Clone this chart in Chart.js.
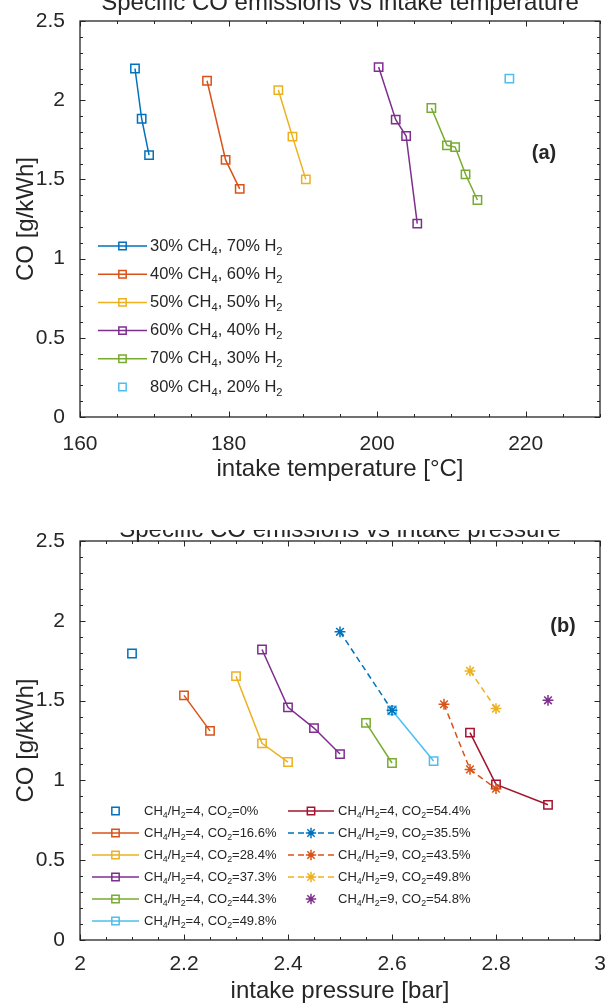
<!DOCTYPE html>
<html><head><meta charset="utf-8">
<script src="https://cdn.jsdelivr.net/npm/chart.js@4"></script>
<style>
html,body{margin:0;padding:0;background:#fff;width:610px;height:1008px;overflow:hidden}
canvas{position:absolute;left:0}
#ca{top:0}
#cb{top:500px}
</style></head><body>
<canvas id="ca" width="610" height="500"></canvas>
<canvas id="cb" width="610" height="508"></canvas>
<script>
// ---------- DATA: panel (a) CO vs intake temperature ----------
const labelsA = ['30% CH_4, 70% H_2','40% CH_4, 60% H_2','50% CH_4, 50% H_2','60% CH_4, 40% H_2','70% CH_4, 30% H_2','80% CH_4, 20% H_2'];
const t30 = [167.4, 168.3, 169.3];          const co30 = [2.20, 1.883, 1.653];
const t40 = [177.1, 179.6, 181.5];          const co40 = [2.123, 1.623, 1.44];
const t50 = [186.7, 188.6, 190.4];          const co50 = [2.064, 1.77, 1.50];
const t60 = [200.2, 202.5, 203.9, 205.4];   const co60 = [2.209, 1.877, 1.774, 1.221];
const t70 = [207.3, 209.4, 210.5, 211.9, 213.5]; const co70 = [1.951, 1.715, 1.704, 1.532, 1.37];
const t80 = [217.8];                        const co80 = [2.136];
const xTicksA = [160, 180, 200, 220];
const yTicks = [0, 0.5, 1, 1.5, 2, 2.5];

// ---------- DATA: panel (b) CO vs intake pressure ----------
const labelsB = ['CH_4/H_2=4, CO_2=0%','CH_4/H_2=4, CO_2=16.6%','CH_4/H_2=4, CO_2=28.4%','CH_4/H_2=4, CO_2=37.3%','CH_4/H_2=4, CO_2=44.3%','CH_4/H_2=4, CO_2=49.8%','CH_4/H_2=4, CO_2=54.4%','CH_4/H_2=9, CO_2=35.5%','CH_4/H_2=9, CO_2=43.5%','CH_4/H_2=9, CO_2=49.8%','CH_4/H_2=9, CO_2=54.8%'];
const p0  = [2.10];              const cp0  = [1.795];
const p16 = [2.20, 2.25];        const cp16 = [1.533, 1.31];
const p28 = [2.30, 2.35, 2.40];  const cp28 = [1.653, 1.232, 1.115];
const p37 = [2.35, 2.40, 2.45, 2.50]; const cp37 = [1.82, 1.458, 1.328, 1.165];
const p44 = [2.55, 2.60];        const cp44 = [1.36, 1.109];
const p49 = [2.60, 2.68];        const cp49 = [1.439, 1.121];
const p54 = [2.75, 2.80, 2.90];  const cp54 = [1.299, 0.975, 0.847];
const q35 = [2.50, 2.60];        const cq35 = [1.931, 1.439];
const q43 = [2.70, 2.75, 2.80];  const cq43 = [1.477, 1.069, 0.948];
const q49 = [2.75, 2.80];        const cq49 = [1.686, 1.45];
const q54 = [2.90];              const cq54 = [1.502];
const xTicksB = [2, 2.2, 2.4, 2.6, 2.8, 3];

// ---------- STYLE ----------
const C = ['#0072BD','#D95319','#EDB120','#7E2F8E','#77AC30','#4DBEEE','#A2142F'];
const FONT = '"Liberation Sans", Arial, Helvetica, sans-serif';
const AX = '#262626';

function pts(xs, ys){ return xs.map((x,i)=>({x:x, y:ys[i]})); }

function ds(label, xs, ys, color, style, line, dash){
  return {label, data: pts(xs, ys), borderColor: color, backgroundColor: color,
    showLine: line, borderWidth: 1.5, borderDash: dash || [],
    pointStyle: style, pointRadius: style==='rect' ? 5.9 : 5.4, pointBorderWidth: 1.5,
    pointBackgroundColor: 'rgba(0,0,0,0)', pointBorderColor: color,
    pointHoverRadius: 5.9, tension: 0};
}

function drawRich(ctx, label, x, y, size){
  const parts = []; let buf = '';
  for (let i=0;i<label.length;i++){
    if (label[i]==='_'){ if(buf) parts.push({t:buf,s:false}); buf=''; parts.push({t:label[i+1],s:true}); i++; }
    else buf += label[i];
  }
  if (buf) parts.push({t:buf,s:false});
  let cx = x;
  ctx.textAlign='left'; ctx.textBaseline='middle'; ctx.fillStyle = AX;
  for (const p of parts){
    const fs = p.s ? size*0.68 : size;
    ctx.font = fs+'px '+FONT;
    ctx.fillText(p.t, cx, p.s ? y + size*0.33 : y);
    cx += ctx.measureText(p.t).width;
  }
}

function deco(cfg){
  return { id: 'deco', afterDraw(chart){
    const ctx = chart.ctx, a = chart.chartArea, xs = chart.scales.x, ys = chart.scales.y;
    ctx.save();
    ctx.strokeStyle = AX; ctx.lineWidth = 1; ctx.setLineDash([]);
    const tick = (len, val, horiz) => {
      ctx.beginPath();
      if (horiz){ const px = Math.round(xs.getPixelForValue(val))+0.5;
        ctx.moveTo(px, a.bottom); ctx.lineTo(px, a.bottom-len);
        ctx.moveTo(px, a.top); ctx.lineTo(px, a.top+len); }
      else { const py = Math.round(ys.getPixelForValue(val))+0.5;
        ctx.moveTo(a.left, py); ctx.lineTo(a.left+len, py);
        ctx.moveTo(a.right, py); ctx.lineTo(a.right-len, py); }
      ctx.stroke();
    };
    for (let v = xs.min; v <= xs.max + 1e-9; v += cfg.xMinor) tick(3, v, true);
    for (let v = ys.min; v <= ys.max + 1e-9; v += 0.1) tick(3, v, false);
    cfg.xTicks.forEach(v => tick(5.5, v, true));
    yTicks.forEach(v => tick(5.5, v, false));
    ctx.lineWidth = 1.3;
    ctx.strokeRect(a.left, a.top, a.right-a.left, a.bottom-a.top);
    ctx.fillStyle = AX; ctx.font = '24px '+FONT; ctx.textAlign='center'; ctx.textBaseline='alphabetic';
    ctx.fillText(cfg.xTitle, (a.left+a.right)/2, cfg.xTitleY);
    ctx.save(); ctx.translate(33, (a.top+a.bottom)/2); ctx.rotate(-Math.PI/2);
    ctx.fillText('CO [g/kWh]', 0, 0); ctx.restore();
    ctx.save(); ctx.beginPath(); ctx.rect(0, cfg.clipY, chart.width, chart.height); ctx.clip();
    ctx.font = '24px '+FONT; ctx.textAlign='center'; ctx.textBaseline='alphabetic';
    ctx.fillText(cfg.title, (a.left+a.right)/2, cfg.titleY);
    ctx.restore();
    ctx.font = 'bold 20px '+FONT; ctx.textAlign='center'; ctx.textBaseline='middle';
    ctx.fillText(cfg.panel, cfg.panelX, cfg.panelY);
    chart.data.datasets.forEach((d, i) => {
      const L = cfg.legend(i);
      ctx.strokeStyle = d.borderColor; ctx.lineWidth = 1.5;
      if (d.showLine){
        ctx.setLineDash(d.borderDash);
        ctx.beginPath(); ctx.moveTo(L.x0, L.y); ctx.lineTo(L.x0+L.len, L.y); ctx.stroke();
        ctx.setLineDash([]);
      }
      ctx.fillStyle = 'rgba(0,0,0,0)';
      Chart.helpers.drawPoint(ctx, {pointStyle: d.pointStyle, radius: d.pointStyle==='rect' ? 5.2 : 5.2, borderWidth: 1.5, rotation: 0}, L.x0+L.len/2, L.y);
      drawRich(ctx, d.label, L.x0+L.len+L.gap, L.y, cfg.legendSize);
    });
    ctx.restore();
  }};
}

function scales(xmin, xmax, xt, xh, xpad){
  return {
    x: { type:'linear', min:xmin, max:xmax,
      afterBuildTicks: s => { s.ticks = xt.map(v=>({value:v})); },
      afterFit: s => { s.height = xh; s.paddingLeft = 0; s.paddingRight = 0; },
      grid:{display:false}, border:{display:false},
      ticks:{ color:AX, font:{family:FONT, size:21}, padding:xpad, maxRotation:0, callback: v => String(v) } },
    y: { type:'linear', min:0, max:2.5,
      afterBuildTicks: s => { s.ticks = yTicks.map(v=>({value:v})); },
      afterFit: s => { s.width = 80; s.paddingTop = 0; s.paddingBottom = 0; },
      grid:{display:false}, border:{display:false},
      ticks:{ color:AX, font:{family:FONT, size:21}, padding:7, callback: v => String(v) } }
  };
}

const baseOpts = { responsive:false, animation:false, devicePixelRatio:1,
  plugins:{ legend:{display:false}, tooltip:{enabled:false}, title:{display:false} } };

// ---------- Panel (a) ----------
const dsA = [
  ds(labelsA[0], t30, co30, C[0], 'rect', true),
  ds(labelsA[1], t40, co40, C[1], 'rect', true),
  ds(labelsA[2], t50, co50, C[2], 'rect', true),
  ds(labelsA[3], t60, co60, C[3], 'rect', true),
  ds(labelsA[4], t70, co70, C[4], 'rect', true),
  ds(labelsA[5], t80, co80, C[5], 'rect', false)
];
dsA.forEach((d,i)=> d.order = -i);
new Chart(document.getElementById('ca'), {
  type:'scatter', data:{datasets:dsA},
  options: Object.assign({}, baseOpts, {
    layout:{padding:{top:21, right:10, left:0, bottom:0}},
    scales: scales(160, 230, xTicksA, 83, 7) }),
  plugins:[deco({xMinor:5, xTicks:xTicksA, xTitle:'intake temperature [°C]', xTitleY:476,
    title:'Specific CO emissions vs intake temperature', titleY:10, clipY:0,
    panel:'(a)', panelX:544, panelY:153, legendSize:16.5,
    legend: i => ({x0:98, len:49, gap:3, y:246 + i*28.2}) })]
});

// ---------- Panel (b) ----------
const dsB = [
  ds(labelsB[0], p0,  cp0,  C[0], 'rect', false),
  ds(labelsB[1], p16, cp16, C[1], 'rect', true),
  ds(labelsB[2], p28, cp28, C[2], 'rect', true),
  ds(labelsB[3], p37, cp37, C[3], 'rect', true),
  ds(labelsB[4], p44, cp44, C[4], 'rect', true),
  ds(labelsB[5], p49, cp49, C[5], 'rect', true),
  ds(labelsB[6], p54, cp54, C[6], 'rect', true),
  ds(labelsB[7], q35, cq35, C[0], 'star', true, [6,4]),
  ds(labelsB[8], q43, cq43, C[1], 'star', true, [6,4]),
  ds(labelsB[9], q49, cq49, C[2], 'star', true, [6,4]),
  ds(labelsB[10], q54, cq54, C[3], 'star', false)
];
dsB.forEach((d,i)=> d.order = -i);
new Chart(document.getElementById('cb'), {
  type:'scatter', data:{datasets:dsB},
  options: Object.assign({}, baseOpts, {
    layout:{padding:{top:41, right:10, left:0, bottom:0}},
    scales: scales(2, 3, xTicksB, 68, 4) }),
  plugins:[deco({xMinor:0.05, xTicks:xTicksB, xTitle:'intake pressure [bar]', xTitleY:498,
    title:'Specific CO emissions vs intake pressure', titleY:37, clipY:30,
    panel:'(b)', panelX:563, panelY:126, legendSize:13,
    legend: i => i < 6 ? ({x0:92, len:47, gap:5, y:311 + i*22})
                 : ({x0:288, len:46, gap:4, y:311 + (i-6)*22}) })]
});
</script>
</body></html>
